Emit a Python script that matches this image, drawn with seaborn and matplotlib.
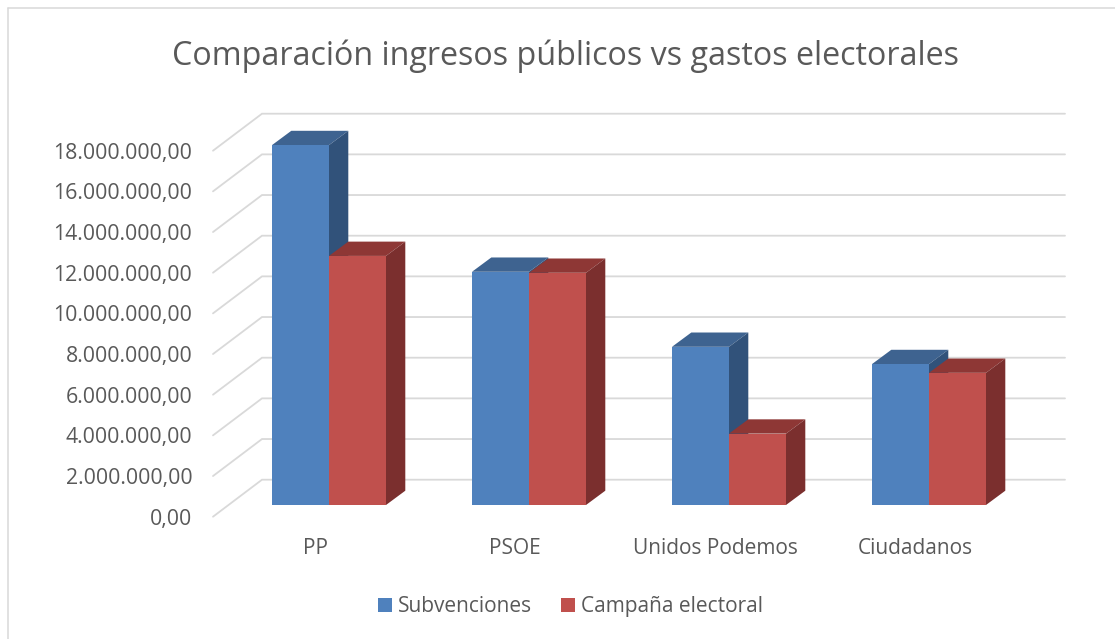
import matplotlib
matplotlib.use("Agg")
import matplotlib.pyplot as plt
import pandas as pd
import seaborn as sns
from matplotlib.lines import Line2D
from matplotlib.patches import Polygon

partidos = ["PP", "PSOE", "Unidos Podemos", "Ciudadanos"]
subvenciones = [17700000, 11470000, 7780000, 6930000]
campana = [12250000, 11420000, 3510000, 6500000]
marcas_y = [0, 2000000, 4000000, 6000000, 8000000, 10000000,
            12000000, 14000000, 16000000, 18000000]

ANCHO, ALTO = 1115, 639
COLOR_TEXTO = "#595959"
COLOR_REJILLA = "#d9d9d9"

# Colores de cada serie: frente, cara superior, cara lateral
COLORES = {
    "Subvenciones": ("#4f81bd", "#3e6390", "#31527a"),
    "Campaña electoral": ("#c0504d", "#8e3735", "#7b2f2e"),
}

sns.set_theme(style="white")
plt.rcParams["font.family"] = ["Open Sans", "DejaVu Sans"]

df = pd.DataFrame({
    "partido": partidos * 2,
    "serie": ["Subvenciones"] * len(partidos) + ["Campaña electoral"] * len(partidos),
    "valor": subvenciones + campana,
})


def crear_ejes(fig, izq, base):
    """Crea unos ejes de 803x366 px con la esquina en (izq, base)."""
    ax = fig.add_axes([izq / ANCHO, (ALTO - base) / ALTO, 803 / ANCHO, 366 / ALTO])
    ax.patch.set_alpha(0)
    sns.despine(ax=ax, left=True, bottom=True)
    return ax


fig = plt.figure(figsize=(ANCHO / 100, ALTO / 100), dpi=100, facecolor="white")

# Marco: solo se ve arriba y a la izquierda
fig.add_artist(Line2D([8 / ANCHO, 8 / ANCHO], [0, 1 - 7.5 / ALTO], color=COLOR_REJILLA, lw=1.1))
fig.add_artist(Line2D([8 / ANCHO, 1], [1 - 7.5 / ALTO] * 2, color=COLOR_REJILLA, lw=1.1))

# Plano frontal de las paredes: rejilla y etiquetas
ax_pared = crear_ejes(fig, 213, 516.7)
x_izq, x_der = (213 - 315) / 200, (1016 - 315) / 200
fondo_x, fondo_y = 49 / 200, 37 * 18000000 / 366
for v in marcas_y:
    ax_pared.plot([x_izq, x_izq + fondo_x, x_der + fondo_x],
                  [v, v + fondo_y, v + fondo_y],
                  color=COLOR_REJILLA, lw=1.3, clip_on=False, solid_joinstyle="miter")
ax_pared.set_xlim(x_izq, x_der)
ax_pared.set_ylim(0, 18000000)
ax_pared.set_xticks(range(len(partidos)), partidos)
ax_pared.set_yticks(marcas_y, [f"{v:,.2f}".replace(",", "X").replace(".", ",").replace("X", ".")
                               for v in marcas_y])
ax_pared.tick_params(axis="x", length=0, pad=15.5, labelsize=15, labelcolor=COLOR_TEXTO)
ax_pared.tick_params(axis="y", length=0, pad=15, labelsize=15.3, labelcolor=COLOR_TEXTO)

# Plano frontal de las barras, algo más adentro
ax_barras = crear_ejes(fig, 213 + 14, 505)
sns.barplot(data=df, x="partido", y="valor", hue="serie", order=partidos,
            palette={s: c[0] for s, c in COLORES.items()},
            width=0.57, gap=0, saturation=1, linewidth=0, ax=ax_barras)
ax_barras.set_xlim(x_izq, x_der)
ax_barras.set_ylim(0, 18000000)
ax_barras.set(xlabel="", ylabel="", xticks=[], yticks=[])

# Profundidad de cada barra
prof_x, prof_y = 19.3 / 200, 14.3 * 18000000 / 366
for nivel, (contenedor, serie) in enumerate(zip(ax_barras.containers, COLORES)):
    _, c_arriba, c_lado = COLORES[serie]
    for barra in contenedor:
        x0, ancho, alto = barra.get_x(), barra.get_width(), barra.get_height()
        barra.set_zorder(5)
        x1 = x0 + ancho
        arriba = [(x0, alto), (x1, alto), (x1 + prof_x, alto + prof_y), (x0 + prof_x, alto + prof_y)]
        lado = [(x1, 0), (x1 + prof_x, prof_y), (x1 + prof_x, alto + prof_y), (x1, alto)]
        ax_barras.add_patch(Polygon(arriba, fc=c_arriba, ec="none", zorder=nivel + 1, clip_on=False))
        ax_barras.add_patch(Polygon(lado, fc=c_lado, ec="none", zorder=nivel + 1, clip_on=False))

sns.move_legend(ax_barras, "center", bbox_to_anchor=(570.5 / ANCHO, 1 - 606.5 / ALTO),
                bbox_transform=fig.transFigure, ncol=2, frameon=False, title=None,
                fontsize=15, labelcolor=COLOR_TEXTO, handlelength=0.67, handleheight=0.67,
                handletextpad=0.3, columnspacing=1.35)

fig.text(566 / ANCHO, 1 - 56 / ALTO, "Comparación ingresos públicos vs gastos electorales",
         ha="center", va="center", fontsize=23.2, color=COLOR_TEXTO)

fig.savefig("out.png", dpi=100)
